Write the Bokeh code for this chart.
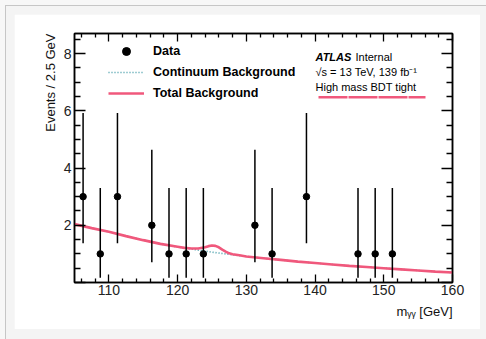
from bokeh.plotting import figure
from bokeh.models import (Range1d, FixedTicker, LinearAxis, Label, ColumnDataSource,
                          Legend, LegendItem, Title)
from bokeh.layouts import column
from bokeh.embed import file_html
from bokeh.resources import INLINE

# ---------------- data ----------------
bin_centers = [106.25, 108.75, 111.25, 116.25, 118.75, 121.25, 123.75,
               131.25, 133.75, 138.75, 146.25, 148.75, 151.25]
events = [3, 1, 3, 2, 1, 1, 1, 2, 1, 3, 1, 1, 1]
err_down = [1.63, 0.83, 1.63, 1.29, 0.83, 0.83, 0.83, 1.29, 0.83, 1.63, 0.83, 0.83, 0.83]
err_up = [2.92, 2.30, 2.92, 2.64, 2.30, 2.30, 2.30, 2.64, 2.30, 2.92, 2.30, 2.30, 2.30]

mass_grid = [105, 107.5, 110, 112.5, 115, 117.5, 120, 121, 122, 123, 124, 124.5, 125,
             125.5, 126, 126.5, 127, 127.5, 128, 129, 130, 132.5, 135, 137.5, 140,
             142.5, 145, 147.5, 150, 152.5, 155, 157.5, 160]
continuum_bkg = [2.04, 1.90, 1.77, 1.62, 1.48, 1.35, 1.24, 1.20, 1.17, 1.13, 1.10, 1.08, 1.06,
                 1.045, 1.03, 1.015, 1.00, 0.985, 0.97, 0.94, 0.91, 0.85, 0.79, 0.73, 0.68,
                 0.63, 0.58, 0.54, 0.50, 0.46, 0.42, 0.38, 0.35]
total_bkg = [2.04, 1.90, 1.77, 1.62, 1.48, 1.35, 1.25, 1.21, 1.19, 1.19, 1.23, 1.27, 1.29,
             1.28, 1.23, 1.15, 1.08, 1.02, 0.99, 0.95, 0.91, 0.85, 0.79, 0.73, 0.68,
             0.63, 0.58, 0.54, 0.50, 0.46, 0.42, 0.38, 0.35]

x_major_ticks = [110, 120, 130, 140, 150, 160]
x_minor_ticks = [106, 108, 112, 114, 116, 118, 122, 124, 126, 128, 132, 134, 136, 138,
                 142, 144, 146, 148, 152, 154, 156, 158]
y_major_ticks = [0, 2, 4, 6, 8]
y_minor_ticks = [0.5, 1, 1.5, 2.5, 3, 3.5, 4.5, 5, 5.5, 6.5, 7, 7.5, 8.5]
y_tick_labels = {0: "", 2: "2", 4: "4", 6: "6", 8: "8"}

x_title = "m\u1d67\u1d67 [GeV]"
y_title = "Events / 2.5 GeV"

PINK = "#f0587c"
TEAL = "#3f9aa6"
FONT = "Liberation Sans"

# ---------------- figure ----------------
FW, FH = 378, 249
p = figure(frame_width=FW, frame_height=FH, x_range=Range1d(105, 160), y_range=Range1d(0, 8.7),
           output_backend="svg", toolbar_location=None,
           min_border_left=60, min_border_right=28, min_border_top=19, min_border_bottom=47,
           background_fill_color="white", border_fill_color="white")
p.extra_x_ranges = {"px": Range1d(0, FW)}
p.extra_y_ranges = {"px": Range1d(0, FH)}
p.xgrid.visible = False
p.ygrid.visible = False
p.outline_line_color = "black"
p.outline_line_width = 1.5

def style_axis(ax, major, minor, show_labels):
    ax.major_tick_in = major
    ax.major_tick_out = 0
    ax.minor_tick_in = minor
    ax.minor_tick_out = 0
    ax.axis_line_width = 1.5
    ax.axis_line_color = "black"
    ax.major_tick_line_width = 1.3
    ax.minor_tick_line_width = 1.3
    ax.major_label_text_font = FONT
    ax.major_label_text_color = "#222222"
    if show_labels:
        ax.major_label_text_font_size = "14px"
    else:
        ax.major_label_text_font_size = "0px"
        ax.major_label_standoff = 0

xt = FixedTicker(ticks=x_major_ticks, minor_ticks=x_minor_ticks)
yt = FixedTicker(ticks=y_major_ticks, minor_ticks=y_minor_ticks)

xb = p.xaxis[0]
xb.ticker = xt
style_axis(xb, 8, 4, True)
xb.major_label_standoff = 2

yl = p.yaxis[0]
yl.ticker = yt
style_axis(yl, 11, 6, True)
yl.major_label_standoff = 3
yl.major_label_overrides = y_tick_labels

xa = LinearAxis(ticker=xt)
style_axis(xa, 8, 4, False)
xa.major_label_overrides = {t: "" for t in x_major_ticks}
p.add_layout(xa, "above")

yr = LinearAxis(ticker=yt)
style_axis(yr, 11, 6, False)
yr.major_label_overrides = {t: "" for t in y_major_ticks}
p.add_layout(yr, "right")

# axis titles, right-aligned as in ROOT
p.add_layout(Title(text=y_title, align="right", text_font=FONT, text_font_size="13px",
                   text_font_style="normal", text_color="#111111", standoff=6), "left")
p.add_layout(Title(text=x_title, align="right", text_font=FONT, text_font_size="13px",
                   text_font_style="normal", text_color="#111111", standoff=8), "below")

# ---------------- glyphs ----------------
curve_src = ColumnDataSource(dict(m=mass_grid, cont=continuum_bkg, tot=total_bkg))
r_cont = p.line("m", "cont", source=curve_src, line_color=TEAL, line_width=1.6, line_dash="1 2")
r_tot = p.line("m", "tot", source=curve_src, line_color=PINK, line_width=2.6)

lo = [n - d for n, d in zip(events, err_down)]
hi = [n + u for n, u in zip(events, err_up)]
data_src = ColumnDataSource(dict(x=bin_centers, y=events, lo=lo, hi=hi))
p.segment(x0="x", y0="lo", x1="x", y1="hi", source=data_src, line_color="black", line_width=1.5)
r_pts = p.scatter("x", "y", source=data_src, size=6.5, color="black")

# ---------------- legend ----------------
legend = Legend(items=[LegendItem(label="Data", renderers=[r_pts]),
                       LegendItem(label="Continuum Background", renderers=[r_cont]),
                       LegendItem(label="Total Background", renderers=[r_tot])],
                location=(34, 179), orientation="vertical",
                border_line_color=None, background_fill_alpha=0,
                glyph_width=36, glyph_height=20, label_height=20, spacing=1,
                padding=0, margin=0, label_standoff=9,
                label_text_font=FONT, label_text_font_style="bold",
                label_text_font_size="12.5px", label_text_color="black")
p.add_layout(legend, "center")

# ---------------- texts (positions in frame pixels) ----------------
def lab(text, x, y, size, style="normal"):
    p.add_layout(Label(x=x, y=y, x_range_name="px", y_range_name="px", text=text,
                       text_font=FONT, text_font_size=size, text_font_style=style,
                       text_align="left", text_baseline="middle", text_color="black"))

lab("ATLAS", 241, 225.3, "11px", style="bold italic")
lab("Internal", 281, 225.3, "11px")
lab("\u221as = 13 TeV, 139 fb\u207b\u00b9", 241, 210.3, "11px")
lab("High mass BDT tight", 241, 195.3, "11px")
p.segment(x0=[244], y0=[185.3], x1=[351], y1=[185.3], x_range_name="px", y_range_name="px",
          line_color=PINK, line_width=2.4, line_dash="29 1")

inner = column(p, styles={"background-color": "#f4f4f4", "border-left": "1px solid #c6c6c6",
                          "border-top": "1px solid #c6c6c6", "padding-left": "8px",
                          "padding-top": "8px", "padding-right": "6px", "padding-bottom": "10px"})
outer = column(inner, styles={"background-color": "#f7f7f7", "padding-left": "5px",
                              "padding-top": "5px"})

open("out.html", "w").write(file_html(outer, INLINE))
